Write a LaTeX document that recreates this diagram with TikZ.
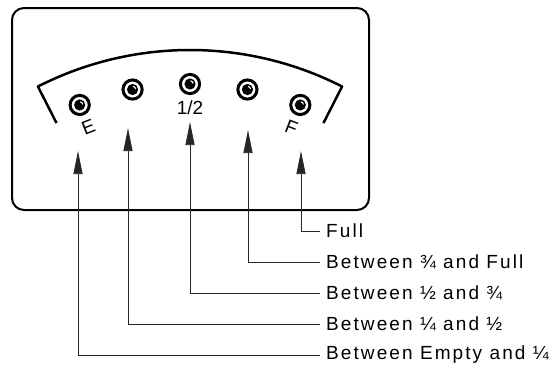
\documentclass[tikz,border=0pt]{standalone}
\usepackage{fontspec}
\newfontfamily\gaugefont{Liberation Sans}
\newfontfamily\notefont{Liberation Sans}[LetterSpace=11]
\usetikzlibrary{arrows.meta}

\begin{document}
\begin{tikzpicture}[x=1pt, y=-1pt,
    every node/.style={font=\gaugefont\fontsize{19}{22}\selectfont},
    note/.style={anchor=west, inner xsep=6pt, inner ysep=0pt, font=\notefont\fontsize{19}{22}\selectfont},
    pointer/.style={{Triangle[length=23pt, width=9pt]}-, black!85, line width=0.75pt}]
    \useasboundingbox (0,0) rectangle (549,372);

    % Корпус указателя
    \draw[line width=2pt, rounded corners=12pt] (12,8) rectangle (369,210);

    % Шкала и лампы (центр дуги ниже рамки)
    \begin{scope}[shift={(190,385)}]
        \draw[line width=2.5pt, line join=round] (243:294) -- (243:335)
            arc[start angle=243, end angle=297, radius=335] -- (297:294);
        \foreach \a/\n in {-21.5/lampE, -11/lampB, 0/lampC, 11/lampD, 21.5/lampF} {
            \coordinate (\n) at (270+\a:301);
            \draw[line width=3pt] (\n) circle (9.6);
            \fill (\n) circle (5.6);
            \draw[white, line width=1.1pt] ([shift={(-10:3.2)}]\n) arc[start angle=-10, end angle=-80, radius=3.2];
        }
        \node[rotate=21.5] (markE) at (248.5:277) {E};
        \node (markC) at (270:277) {1/2};
        \node[rotate=-21.5] (markF) at (291.5:277) {F};
    \end{scope}

    % Острия стрелок
    \coordinate (tipE) at (78,151);
    \coordinate (tipB) at (128,128);
    \coordinate (tipC) at (190,122);
    \coordinate (tipD) at (248,130);
    \coordinate (tipF) at (301,151);

    % Подписи
    \node[note] (full) at (320,231) {Full};
    \node[note] (upper) at (320,262) {Between ¾ and Full};
    \node[note] (half) at (320,293) {Between ½ and ¾};
    \node[note] (lower) at (320,324) {Between ¼ and ½};
    \node[note] (empty) at (320,355) {Between Empty and ¼};

    % Выноски
    \draw[pointer] (tipF) |- (full.west);
    \draw[pointer] (tipD) |- (upper.west);
    \draw[pointer] (tipC) |- (half.west);
    \draw[pointer] (tipB) |- (lower.west);
    \draw[pointer] (tipE) |- (empty.west);
\end{tikzpicture}
\end{document}
